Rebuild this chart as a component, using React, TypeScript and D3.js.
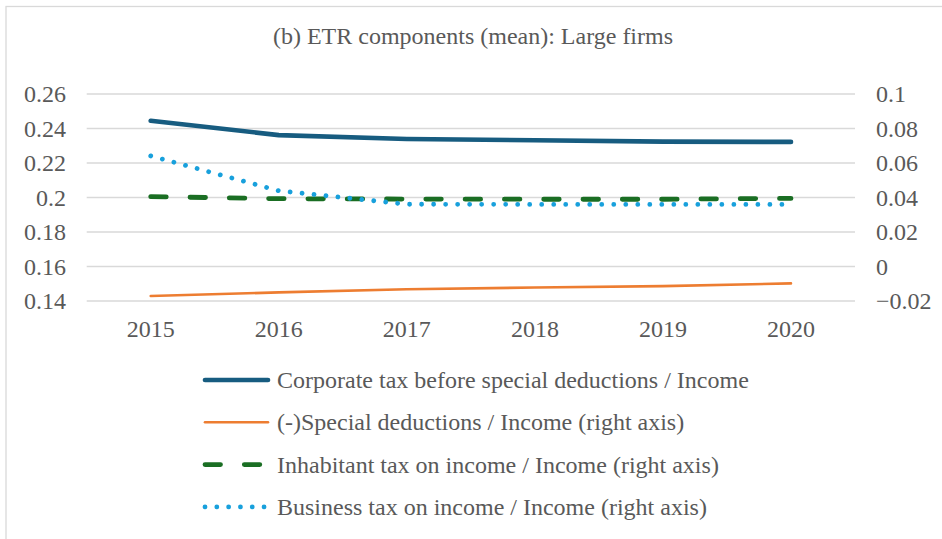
import React, { useEffect, useRef } from "react";
import * as d3 from "d3";

const years = ["2015", "2016", "2017", "2018", "2019", "2020"];
const corporate = [0.2445, 0.2362, 0.2339, 0.2332, 0.2324, 0.2322];
const specialDeductions = [-0.0171, -0.015, -0.0132, -0.0122, -0.0114, -0.0098];
const inhabitant = [0.0405, 0.0393, 0.0391, 0.039, 0.039, 0.0395];
const business = [0.0641, 0.0439, 0.0361, 0.036, 0.036, 0.036];
const leftTicks = [0.14, 0.16, 0.18, 0.2, 0.22, 0.24, 0.26];
const rightTicks = [-0.02, 0, 0.02, 0.04, 0.06, 0.08, 0.1];
const title = "(b) ETR components (mean): Large firms";

const W = 942;
const H = 539;
const FONT = '"Liberation Serif", monospace';
const TEXT = "#595959";

type Series = {
  name: string;
  values: number[];
  axis: "left" | "right";
  color: string;
  width: number;
  dash?: string;
  legendDash?: string;
};

const series: Series[] = [
  { name: "Corporate tax before special deductions / Income", values: corporate, axis: "left", color: "#175c80", width: 4.7 },
  { name: "(-)Special deductions / Income (right axis)", values: specialDeductions, axis: "right", color: "#ed7d31", width: 2.6 },
  { name: "Inhabitant tax on income / Income (right axis)", values: inhabitant, axis: "right", color: "#1a6e23", width: 4.8, dash: "15.5 23.8", legendDash: "15.5 23.8" },
  { name: "Business tax on income / Income (right axis)", values: business, axis: "right", color: "#18a0dc", width: 4.8, dash: "0.01 12", legendDash: "0.01 11.8" },
];

export default function App() {
  const ref = useRef<SVGSVGElement | null>(null);
  const x = d3.scaleBand<string>().domain(years).range([86.7, 855]);
  const yL = d3.scaleLinear().domain([0.14, 0.26]).range([301, 94]);
  const yR = d3.scaleLinear().domain([-0.02, 0.1]).range([301, 94]);
  const cx = (d: string) => (x(d) as number) + x.bandwidth() / 2;

  const legendY0 = 380;
  const legendStep = 42.3;

  useEffect(() => {
    if (!ref.current) return;
    d3.select(ref.current)
      .selectAll("text")
      .attr("font-family", "Liberation Serif")
      .style("font-family", "\"Liberation Serif\", monospace", "important");
  }, []);

  return (
    <svg
      ref={ref}
      width={W}
      height={H}
      fontFamily="Liberation Serif"
      style={{ position: "absolute", top: 0, left: 0 }}
    >
      <style>{`text { font-family: "Liberation Serif", monospace !important; }`}</style>
      <rect x={0} y={0} width={W} height={H} fill="#fff" />
      <rect x={6} y={6.5} width={W + 20} height={H + 20} fill="#fff" stroke="#d9d9d9" strokeWidth={1.3} />
      <text x={473} y={44} textAnchor="middle" fontSize={24} fill={TEXT} style={{ fontFamily: FONT }}>
        {title}
      </text>
      {leftTicks.map((t) => (
        <line key={"g" + t} x1={86.7} x2={855} y1={yL(t)} y2={yL(t)} stroke="#d9d9d9" strokeWidth={1.3} />
      ))}
      {leftTicks.map((t) => (
        <text key={"l" + t} x={66} y={yL(t)} dy="0.34em" textAnchor="end" fontSize={24} fill={TEXT} style={{ fontFamily: FONT }}>
          {String(t)}
        </text>
      ))}
      {rightTicks.map((t) => (
        <text key={"r" + t} x={876} y={yR(t)} dy="0.34em" textAnchor="start" fontSize={24} fill={TEXT} style={{ fontFamily: FONT }}>
          {String(d3.format("~g")(t))}
        </text>
      ))}
      {years.map((yr) => (
        <text key={yr} x={cx(yr)} y={337} textAnchor="middle" fontSize={24} fill={TEXT} style={{ fontFamily: FONT }}>
          {yr}
        </text>
      ))}
      {series.map((s) => {
        const ys = s.axis === "left" ? yL : yR;
        const line = d3
          .line<number>()
          .x((_, i) => cx(years[i]))
          .y((v) => ys(v));
        return (
          <path
            key={s.name}
            d={line(s.values) || ""}
            fill="none"
            stroke={s.color}
            strokeWidth={s.width}
            strokeDasharray={s.dash}
            strokeLinecap="round"
            strokeLinejoin="round"
          />
        );
      })}
      {series.map((s, i) => {
        const y = legendY0 + i * legendStep;
        return (
          <g key={"leg" + s.name}>
            <line
              x1={205}
              x2={s.dash ? 270 : 268}
              y1={y}
              y2={y}
              stroke={s.color}
              strokeWidth={s.width}
              strokeDasharray={s.legendDash}
              strokeLinecap="round"
            />
            <text x={277} y={y} dy="0.34em" fontSize={24} fill={TEXT} style={{ fontFamily: FONT }}>
              {s.name}
            </text>
          </g>
        );
      })}
    </svg>
  );
}
